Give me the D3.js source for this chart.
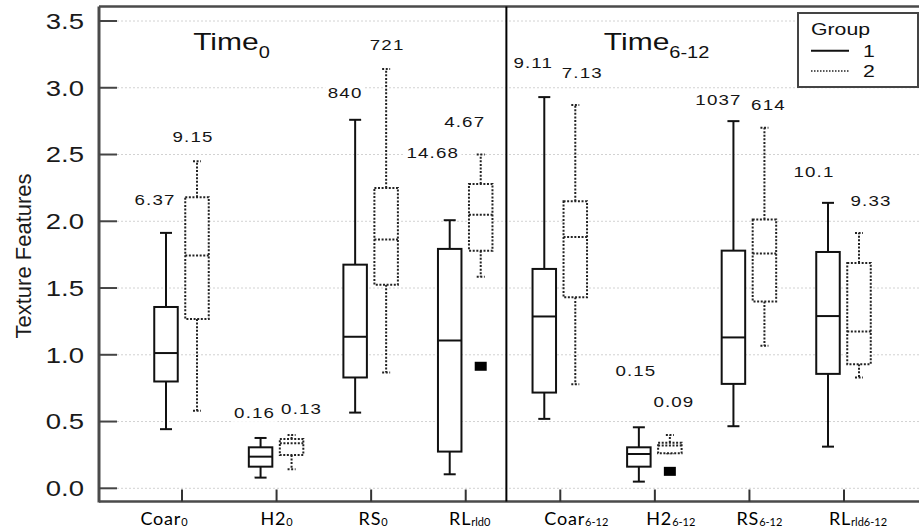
<!DOCTYPE html>
<html><head><meta charset="utf-8">
<script src="https://cdn.jsdelivr.net/npm/d3@7"></script>
<style>body{margin:0;background:#fff}svg{display:block}</style>
</head><body><svg id="c" width="919" height="530"></svg>
<script>
// ---- data ----
const categories = ["Coar0","H2_0","RS0","RLrld0","Coar6-12","H2_6-12","RS6-12","RLrld6-12"];
const catBase = ["Coar","H2","RS","RL","Coar","H2","RS","RL"];
const catSub  = ["0","0","0","rld0","6-12","6-12","6-12","rld6-12"];
const groups = ["1","2"];

// Group 1 (solid)
const g1Low  = [0.443, 0.08, 0.567, 0.105, 0.52, 0.05, 0.465, 0.312];
const g1Q1   = [0.80, 0.162, 0.83, 0.275, 0.717, 0.162, 0.782, 0.857];
const g1Med  = [1.013, 0.237, 1.135, 1.107, 1.287, 0.257, 1.13, 1.29];
const g1Q3   = [1.358, 0.307, 1.675, 1.793, 1.643, 0.307, 1.78, 1.77];
const g1High = [1.913, 0.377, 2.76, 2.008, 2.93, 0.457, 2.75, 2.138];
// Group 2 (dotted)
const g2Low  = [0.58, 0.142, 0.867, 1.585, 0.78, 0.262, 1.067, 0.83];
const g2Q1   = [1.268, 0.25, 1.525, 1.78, 1.43, 0.262, 1.40, 0.93];
const g2Med  = [1.743, 0.337, 1.863, 2.048, 1.883, 0.32, 1.758, 1.175];
const g2Q3   = [2.18, 0.37, 2.25, 2.28, 2.15, 0.342, 2.013, 1.688];
const g2High = [2.45, 0.40, 3.14, 2.50, 2.87, 0.40, 2.70, 1.913];
// outliers
const outlierCat   = [3, 5];
const outlierGroup = ["2", "2"];
const outlierValue = [0.914, 0.127];

// annotation texts and their heights (data units)
const g1Annot  = ["6.37","0.16","840","14.68","9.11","0.15","1037","10.1"];
const g1AnnotY = [2.16, 0.565, 2.965, 2.515, 3.19, 0.88, 2.91, 2.375];
const g2Annot  = ["9.15","0.13","721","4.67","7.13","0.09","614","9.33"];
const g2AnnotY = [2.635, 0.60, 3.32, 2.748, 3.115, 0.648, 2.875, 2.155];

const yTicks = [0, 0.5, 1.0, 1.5, 2.0, 2.5, 3.0, 3.5];
const yTickLabels = ["0.0","0.5","1.0","1.5","2.0","2.5","3.0","3.5"];
const panelBase = ["Time","Time"];
const panelSub  = ["0","6-12"];
const legendTitle = "Group";

// ---- layout constants ----
const L = 99, R = 919, T = 6.5, B = 501.5;
const g1Nudge = [-11,-6,-10,-17,-11,-3,-15,-14];
const g2Nudge = [-4,10,1,-16,7,4,4,12];
const xLabelNudge = [-18,0,2,4,16,16,10,14];
const SX = 1.25; // horizontal stretch of the reference's text

const svg = d3.select("#c");
const y = d3.scaleLinear().domain([0, 3.5]).range([488.3, 21]);
const x = d3.scalePoint().domain(categories).range([182, 844]);
const xi = d3.scaleLinear().domain([0, 7]).range([182, 844]);
const gOff = d3.scalePoint().domain(groups).range([-16, 15]);
const FONT = "'Liberation Sans', Arial, sans-serif";

function stext(parent, px, py, size, anchor) {
  const g = parent.append("g").attr("transform", `translate(${px},${py}) scale(${SX},1)`);
  const t = g.append("text").attr("font-family", FONT).attr("font-size", size)
    .attr("text-anchor", anchor || "start").attr("fill", "#151515");
  return t;
}

// grid
svg.append("g").selectAll("line").data(yTicks).join("line")
  .attr("x1", L + 18).attr("x2", R).attr("y1", d => y(d)).attr("y2", d => y(d))
  .attr("stroke", "#d2d2d2").attr("stroke-width", 1).attr("stroke-dasharray", "2,2");

// frame
svg.append("line").attr("x1", L).attr("x2", L).attr("y1", T).attr("y2", B + 1)
  .attr("stroke", "#4a4a4a").attr("stroke-width", 3);
svg.append("line").attr("x1", L).attr("x2", R).attr("y1", T).attr("y2", T)
  .attr("stroke", "#4a4a4a").attr("stroke-width", 2.5);
svg.append("line").attr("x1", L).attr("x2", R).attr("y1", B).attr("y2", B)
  .attr("stroke", "#4a4a4a").attr("stroke-width", 2.5);

// y ticks
svg.append("g").selectAll("line").data(yTicks).join("line")
  .attr("x1", L).attr("x2", L + 18).attr("y1", d => y(d)).attr("y2", d => y(d))
  .attr("stroke", "#444").attr("stroke-width", 2);
yTicks.forEach((d, i) => {
  stext(svg, 84, y(d), 22, "end").attr("dy", "0.36em").attr("fill", "#1a1a1a").text(yTickLabels[i]);
});

// y title
svg.append("text").attr("transform", "translate(31,256) rotate(-90)")
  .attr("text-anchor", "middle").attr("font-family", FONT).attr("font-size", 22)
  .attr("fill", "#1a1a1a").text("Texture Features");

// x ticks
svg.append("g").selectAll("line").data(categories).join("line")
  .attr("x1", d => x(d)).attr("x2", d => x(d)).attr("y1", B).attr("y2", B - 12)
  .attr("stroke", "#333").attr("stroke-width", 2);

// x labels
const xl = svg.append("g").selectAll("text").data(categories).join("text")
  .attr("x", (d, i) => x(d) + xLabelNudge[i]).attr("y", 525).attr("text-anchor", "middle")
  .attr("font-family", "Lato, 'Open Sans', sans-serif").attr("font-size", 18)
  .attr("letter-spacing", 0.8).attr("fill", "#000");
xl.append("tspan").text((d, i) => catBase[i]);
xl.append("tspan").attr("font-size", 11).attr("letter-spacing", 0).attr("dy", 1).text((d, i) => catSub[i]);

// divider
const step = x.step();
svg.append("line").attr("x1", x(categories[3]) + step * 0.43).attr("x2", x(categories[3]) + step * 0.43)
  .attr("y1", T).attr("y2", B).attr("stroke", "#000").attr("stroke-width", 2);

// panel titles
const titleIdx = [0.118, 4.46];
panelBase.forEach((b, k) => {
  const t = stext(svg, xi(titleIdx[k]), 50, 24).attr("fill", "#111");
  t.append("tspan").text(b);
  t.append("tspan").attr("font-size", 16).attr("dy", 8).text(panelSub[k]);
});

// boxes
const series = [
  {g: "1", low: g1Low, q1: g1Q1, med: g1Med, q3: g1Q3, high: g1High, dash: null, cap: 12, color: "#111"},
  {g: "2", low: g2Low, q1: g2Q1, med: g2Med, q3: g2Q3, high: g2High, dash: "2,1.6", cap: 8, color: "#222"}
];
const BW = 23.5;
series.forEach(s => {
  const gg = svg.append("g").attr("fill", "none").attr("stroke", s.color).attr("stroke-width", 2);
  categories.forEach((c, i) => {
    const cx = x(c) + gOff(s.g);
    const dash = s.dash;
    const ln = (x1, y1, x2, y2) => gg.append("line").attr("x1", x1).attr("y1", y1).attr("x2", x2).attr("y2", y2)
      .attr("stroke-dasharray", dash);
    ln(cx, y(s.q3[i]), cx, y(s.high[i]));
    ln(cx, y(s.q1[i]), cx, y(s.low[i]));
    ln(cx - s.cap / 2, y(s.high[i]), cx + s.cap / 2, y(s.high[i]));
    ln(cx - s.cap / 2, y(s.low[i]), cx + s.cap / 2, y(s.low[i]));
    gg.append("rect").attr("x", cx - BW / 2).attr("y", y(s.q3[i]))
      .attr("width", BW).attr("height", y(s.q1[i]) - y(s.q3[i]))
      .attr("fill", "#fff").attr("stroke-dasharray", dash);
    ln(cx - BW / 2, y(s.med[i]), cx + BW / 2, y(s.med[i]));
  });
});

// outliers
svg.append("g").selectAll("rect").data(outlierValue).join("rect")
  .attr("x", (d, i) => x(categories[outlierCat[i]]) + gOff(outlierGroup[i]) - 6)
  .attr("y", d => y(d) - 4.5).attr("width", 12).attr("height", 9).attr("fill", "#000");

// annotations
const ann = svg.append("g");
[[g1Annot, g1AnnotY, g1Nudge, "1"], [g2Annot, g2AnnotY, g2Nudge, "2"]].forEach(([txt, ys, nd, g]) => {
  categories.forEach((c, i) => {
    const t = stext(ann, x(c) + gOff(g) + nd[i], y(ys[i]), 15, "middle")
      .attr("dy", "0.36em").attr("letter-spacing", 0.9).text(txt[i]);
    const bb = t.node().getBBox();
    d3.select(t.node().parentNode).insert("rect", () => t.node())
      .attr("x", bb.x - 2).attr("y", bb.y).attr("width", bb.width + 4)
      .attr("height", bb.height).attr("fill", "#fff");
  });
});

// legend
const lg = svg.append("g");
lg.append("rect").attr("x", 798).attr("y", 13).attr("width", 120).attr("height", 74)
  .attr("fill", "#fff").attr("stroke", "#444").attr("stroke-width", 2);
stext(lg, 811, 35, 17).attr("fill", "#111").text(legendTitle);
series.forEach((s, k) => {
  const yy = 50.7 + k * 20.3;
  lg.append("line").attr("x1", 811).attr("x2", 849).attr("y1", yy).attr("y2", yy)
    .attr("stroke", s.color).attr("stroke-width", s.dash ? 1.5 : 2).attr("stroke-dasharray", s.dash ? "1.5,1.5" : null);
  stext(lg, 869, yy, 17, "middle").attr("dy", "0.36em").attr("fill", "#111").text(groups[k]);
});
</script></body></html>
